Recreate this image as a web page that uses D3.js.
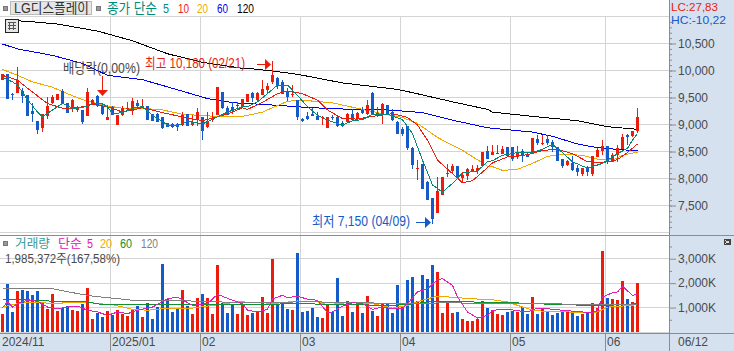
<!DOCTYPE html>
<html>
<head>
<meta charset="utf-8">
<script src="https://cdn.jsdelivr.net/npm/d3@7"></script>
<style>
html,body{margin:0;padding:0;background:#fff;overflow:hidden;}
svg{display:block;}
text{font-family:"Liberation Sans","Noto Sans CJK KR",sans-serif;}
</style>
</head>
<body>
<script>
// candle values, one per trading day
const opens = [9820,9930,9570,9590,9620,9540,9250,9060,8940,9160,9400,9450,9620,9400,9280,9270,9270,9160,9390,9530,
9350,9090,9330,9000,9170,9280,9250,9390,9340,9340,9190,9200,9130,9020,9010,9010,8990,9200,8990,9110,
9140,8960,9080,9170,9600,9310,9330,9340,9330,9420,9590,9450,9540,9640,9790,9870,9790,9600,9560,9450,
9110,9150,9190,9150,9120,8940,9140,9130,9020,9050,9200,9100,9270,9190,9590,9190,9190,9360,9230,9050,
8910,8970,8570,8190,8270,7940,7630,7360,7700,8080,8140,8230,8010,8040,8140,8140,8230,8510,8430,8470,
8460,8580,8580,8400,8510,8460,8460,8730,8650,8730,8670,8580,8360,8250,8280,8200,8090,8200,8080,8400,
8510,8610,8310,8430,8540,8800,8780,8880];
const closes = [9930,9470,9540,9820,9520,9160,9190,8900,9190,9350,9510,9560,9390,9220,9450,9310,9050,9600,9450,9350,
9190,9140,9170,9170,9310,9300,9430,9340,9350,9080,9070,9050,8930,8960,8950,8950,9170,8970,9050,9230,
8880,9070,9110,9690,9300,9170,9250,9370,9470,9560,9490,9590,9650,9710,9910,9730,9570,9510,9570,9130,
9060,9100,9160,9090,9140,9130,9120,8970,8980,9200,9090,9220,9220,9360,9200,9220,9380,9190,9090,8820,
8830,8570,8250,8200,7800,7610,7250,7770,8020,8100,8230,8030,8070,8170,8170,8200,8490,8370,8490,8480,
8540,8420,8370,8490,8410,8400,8750,8650,8660,8650,8590,8330,8230,8320,8150,8120,8190,8120,8420,8520,
8600,8310,8430,8560,8760,8770,8880,9140];
const highs = [9930,9930,9590,10070,9670,9550,9390,9060,9190,9510,9540,9560,9650,9400,9480,9340,9270,9670,9470,9550,
9360,9360,9350,9170,9340,9420,9500,9460,9480,9350,9200,9210,9130,9030,9020,9030,9230,9200,9170,9300,
9140,9230,9230,9690,9610,9340,9420,9420,9480,9570,9600,9600,9830,9760,10180,9880,9830,9670,9730,9460,
9120,9230,9300,9230,9150,9140,9170,9150,9060,9210,9280,9230,9330,9450,9600,9330,9390,9370,9280,9060,
8960,8970,8580,8340,8270,7950,7640,8030,8030,8260,8270,8240,8120,8200,8250,8250,8500,8600,8620,8620,
8600,8580,8580,8600,8540,8490,8750,8800,8810,8800,8710,8590,8360,8350,8410,8250,8190,8230,8420,8560,
8720,8610,8480,8620,8820,8830,8880,9300];
const lows = [9820,9470,9450,9590,9390,9160,9050,8830,8860,9110,9380,9450,9390,9210,9230,9230,9010,9160,9370,9330,
9180,9090,9170,9000,9160,9270,9170,9300,9340,9080,9060,9050,8920,8950,8940,8880,8970,8970,8970,8970,
8710,8930,9050,9170,9290,9170,9200,9270,9320,9410,9420,9440,9540,9590,9750,9650,9570,9440,9510,9090,
9050,9080,9150,9080,8990,8930,9090,8960,8960,9020,9080,9090,9200,9170,9200,9130,9010,9180,9060,8820,
8790,8520,8170,7970,7800,7610,7150,7360,7700,8030,8090,8020,7920,7980,8120,8080,8220,8360,8430,8450,
8450,8420,8330,8370,8310,8390,8450,8620,8620,8620,8490,8330,8200,8230,8140,8050,8050,8050,8050,8390,
8430,8270,8300,8310,8540,8620,8770,8850];
const volumes = [750,1980,820,1680,1730,1680,1500,1680,1230,950,1570,860,1000,1060,890,860,1160,1810,550,780,
610,860,680,890,720,650,950,1060,610,1190,550,1020,2780,1360,820,950,1730,1060,750,1400,
1570,1400,750,2760,1200,780,1130,750,1160,710,780,820,1430,780,2990,1120,1200,940,900,3230,
820,860,980,610,570,1090,820,2210,650,1270,820,1200,780,1470,860,650,1190,1130,780,1920,
1020,2130,2250,1260,2330,2170,2740,2460,780,1270,780,820,530,450,450,550,1270,980,900,740,
700,820,850,800,1020,740,1430,740,950,800,700,780,900,800,780,650,750,780,1190,980,
3320,1390,1350,1310,2090,1350,1230,1985];

// moving averages read at selected days: day index, then value
const ma5Days = [0,2,3,5,7,8,10,12,14,16,18,20,21,22,24,26,28,30,33,35,37,40,43,45,48,49,51,53,55,57,59,61,63,65,68,70,72,74,77,80,82,84,86,88,90,92,95,97,98,100,103,106,108,110,112,114,117,120,123,125,126,127];
const ma5 = [9870,9790,9730,9460,9230,9140,9270,9390,9300,9310,9390,9380,9330,9200,9220,9300,9330,9170,8990,8980,9060,9010,9140,9230,9330,9330,9420,9570,9730,9730,9540,9330,9170,9080,8990,9070,9090,9190,9190,9090,8830,8340,7880,7750,7910,8100,8140,8310,8330,8430,8480,8480,8540,8630,8480,8310,8190,8280,8460,8560,8710,8830];
const ma10Days = [0,3,6,9,12,15,18,21,24,28,32,36,40,43,46,48,49,52,55,57,60,63,65,68,71,74,78,81,83,85,87,90,92,94,97,98,101,105,108,111,114,117,120,123,125,127];
const ma10 = [9910,9820,9600,9390,9300,9310,9370,9330,9230,9310,9220,9140,9070,9140,9230,9310,9280,9410,9570,9620,9570,9450,9270,9110,9100,9150,9200,9130,8990,8710,8340,8090,7920,7960,8200,8290,8400,8440,8520,8540,8460,8310,8290,8350,8480,8640];
const ma20Days = [0,3,6,10,13,16,20,24,28,32,36,41,43,48,49,52,55,57,60,66,71,76,80,83,87,92,97,98,100,103,106,109,112,116,119,122,124,127];
const ma20 = [10020,9910,9790,9690,9570,9460,9360,9300,9300,9270,9190,9160,9150,9150,9170,9230,9350,9430,9450,9400,9300,9200,9130,9020,8760,8520,8230,8220,8150,8170,8280,8410,8450,8430,8360,8340,8430,8490];
const ma60Days = [0,3,10,16,21,28,34,41,45,48,49,54,62,70,77,84,90,97,98,106,110,115,119,123,127];
const ma60 = [10490,10400,10280,10130,9910,9830,9670,9480,9420,9390,9390,9360,9310,9280,9270,9220,9080,8940,8930,8860,8780,8640,8570,8540,8510];
const ma120Days = [1,5,11,19,26,33,40,48,49,54,59,68,79,82,90,97,98,106,115,121,127];
const ma120 = [10930,10910,10860,10730,10550,10310,10150,10040,10040,9990,9930,9770,9650,9590,9420,9280,9230,9150,9070,8960,8910];

const volMa5Days = [0,1,2,3,5,7,9,11,13,15,17,19,21,23,25,27,30,33,35,38,41,43,46,48,49,51,53,54,56,57,59,61,63,65,66,68,70,72,74,76,78,80,81,83,85,87,88,90,91,93,95,97,98,101,105,107,109,112,116,118,119,120,122,123,124,126,127];
const volMa5 = [1000,1230,1020,1160,1300,1260,1020,950,1020,1060,890,820,680,820,750,890,1020,1360,1430,1090,1160,1540,1300,1160,890,820,930,1360,1500,1400,1470,1340,1300,790,820,1060,1200,1160,930,1020,950,950,1160,1640,1770,2150,2180,1910,1430,820,570,680,890,930,820,980,950,890,820,780,890,1430,1610,1640,1870,1500,1540];
const volMa20Days = [0,3,5,8,10,13,17,19,22,26,29,32,37,41,46,48,49,52,54,59,63,65,69,74,78,81,84,87,92,97,98,101,103,106,110,113,117,119,121,124,127];
const volMa20 = [1020,1160,1200,1200,1160,1200,1230,1160,1120,930,890,950,950,1060,1200,1250,1200,1200,1160,1270,1230,1120,1200,1160,980,1090,1300,1470,1390,1320,1320,1230,1090,890,820,820,790,820,1020,1060,1120];
const volMa60Days = [0,4,7,12,17,20,26,33,48,49,59,69,77,81,86,92,97,98,103,106,117,121,127];
const volMa60 = [1320,1320,1300,1230,1230,1120,1120,1120,1120,1120,1160,1120,1090,1120,1250,1250,1200,1200,1190,1160,1090,1090,1160];
const volMa120Days = [0,10,14,18,26,33,48,49,59,63,73,77,82,89,97,98,127];
const volMa120 = [1770,1770,1610,1470,1300,1300,1200,1200,1230,1230,1200,1160,1160,1200,1160,1160,1130];

const priceTicks = [7500,8000,8500,9000,9500,10000,10500];
const volumeTicks = [1000,2000,3000];
const monthDays = [22,40,60,80,102,121];
const monthLabels = ["2025/01","02","03","04","05","06"];

const width = 734;
const height = 351;
const chartRight = 669;
const red = "#ec1c0c";
const blue = "#145ac8";
const teal = "#008a78";
const orange = "#f0a800";
const magenta = "#e020b0";
const green = "#109030";
const gridColor = "#d4d4d4";
const textColor = "#4a4a4a";
const panelColor = "#d6e1f0";

const svg = d3.select("body").append("svg")
  .attr("width", width)
  .attr("height", height)
  .attr("viewBox", "0 0 " + width + " " + height);

// 5px slot for each day
const xScale = d3.scaleLinear().domain([0,134]).range([0,670]);
const yPrice = d3.scaleLinear().domain([7000,11000]).range([232.5,16.5]);
const yVolume = d3.scaleLinear().domain([0,3000]).range([332,258.7]);

function label(x, y, str, color, size, len){
  const t = svg.append("text")
    .attr("x", x).attr("y", y)
    .attr("fill", color)
    .attr("font-size", size + "px")
    .text(str);
  if(len) t.attr("textLength", len).attr("lengthAdjust", "spacingAndGlyphs");
  return t;
}

// side panel and date strip
svg.append("rect").attr("x",chartRight).attr("y",0).attr("width",width-chartRight).attr("height",height).attr("fill",panelColor);
svg.append("rect").attr("x",0).attr("y",334).attr("width",width).attr("height",height-334).attr("fill",panelColor);

// gridlines
const grid = svg.append("g").attr("stroke",gridColor).attr("shape-rendering","crispEdges");
grid.selectAll("line.h")
  .data([7000].concat(priceTicks, [11000]))
  .enter().append("line")
  .attr("x1",0).attr("x2",chartRight)
  .attr("y1",function(d){ return Math.floor(yPrice(d))+0.5; })
  .attr("y2",function(d){ return Math.floor(yPrice(d))+0.5; });
grid.selectAll("line.v")
  .data(volumeTicks.concat([0]))
  .enter().append("line")
  .attr("x1",0).attr("x2",chartRight)
  .attr("y1",function(d){ return Math.floor(yVolume(d))+0.5; })
  .attr("y2",function(d){ return Math.floor(yVolume(d))+0.5; });
grid.selectAll("line.m")
  .data(monthDays)
  .enter().append("line")
  .attr("x1",function(d){ return xScale(d)+0.5; })
  .attr("x2",function(d){ return xScale(d)+0.5; })
  .attr("y1",16).attr("y2",334);

// line helper
function maLine(days, vals, y, color){
  const line = d3.line()
    .x(function(d){ return xScale(d[0])+2.5; })
    .y(function(d){ return y(d[1]); });
  svg.append("path")
    .attr("d", line(days.map(function(d,i){ return [d, vals[i]]; })))
    .attr("fill","none")
    .attr("stroke",color)
    .attr("stroke-width",1)
    .attr("shape-rendering","crispEdges");
}

// moving averages under the candles go first
maLine(ma120Days, ma120, yPrice, "#000000");
maLine(ma60Days, ma60, yPrice, "#0000f0");
maLine(ma20Days, ma20, yPrice, orange);

// candles
const days = d3.range(closes.length);
const isUp = function(i){ return closes[i] >= opens[i]; };
svg.append("g").attr("shape-rendering","crispEdges")
  .selectAll("rect.wick").data(days).enter().append("rect")
  .attr("x",function(i){ return xScale(i)+2; })
  .attr("width",1)
  .attr("y",function(i){ return yPrice(highs[i]); })
  .attr("height",function(i){ return yPrice(lows[i])-yPrice(highs[i]); })
  .attr("fill",function(i){ return isUp(i) ? red : blue; });
svg.append("g").attr("shape-rendering","crispEdges")
  .selectAll("rect.body").data(days).enter().append("rect")
  .attr("x",function(i){ return xScale(i)+1; })
  .attr("width",3)
  .attr("y",function(i){ return yPrice(Math.max(opens[i],closes[i])); })
  .attr("height",function(i){ return Math.max(1,Math.abs(yPrice(opens[i])-yPrice(closes[i]))); })
  .attr("fill",function(i){ return isUp(i) ? red : blue; });

maLine(ma10Days, ma10, yPrice, red);
maLine(ma5Days, ma5, yPrice, teal);

// volume bars
svg.append("g").attr("shape-rendering","crispEdges")
  .selectAll("rect").data(days).enter().append("rect")
  .attr("x",function(i){ return xScale(i)+1; })
  .attr("width",3)
  .attr("y",function(i){ return yVolume(volumes[i]); })
  .attr("height",function(i){ return yVolume(0)-yVolume(volumes[i]); })
  .attr("fill",function(i){ return isUp(i) ? red : blue; });

maLine(volMa20Days, volMa20, yVolume, orange);
maLine(volMa60Days, volMa60, yVolume, green);
maLine(volMa120Days, volMa120, yVolume, "#808080");
maLine(volMa5Days, volMa5, yVolume, magenta);

// pane frame
const frame = svg.append("g").attr("stroke","#8c8c8c").attr("shape-rendering","crispEdges");
frame.append("line").attr("x1",chartRight+0.5).attr("x2",chartRight+0.5).attr("y1",0).attr("y2",height);
frame.append("line").attr("x1",0).attr("x2",width).attr("y1",235.5).attr("y2",235.5);
frame.append("line").attr("x1",0).attr("x2",width).attr("y1",333.5).attr("y2",333.5);
frame.selectAll("line.mon").data(monthDays).enter().append("line")
  .attr("x1",function(d){ return xScale(d)+0.5; })
  .attr("x2",function(d){ return xScale(d)+0.5; })
  .attr("y1",334).attr("y2",height);

// right axes
function styleAxis(g){
  g.select(".domain").remove();
  g.selectAll("line").attr("stroke","#8c8c8c");
  g.selectAll("text").attr("fill",textColor).attr("font-size","12px").attr("font-family",null);
}
svg.append("g").attr("transform","translate("+chartRight+",0)")
  .call(d3.axisRight(yPrice).tickValues(d3.range(7100,11000,100)).tickSize(3).tickFormat(""))
  .call(styleAxis);
svg.append("g").attr("transform","translate("+chartRight+",0)")
  .call(d3.axisRight(yPrice).tickValues(priceTicks).tickSize(7).tickPadding(2).tickFormat(d3.format(",")))
  .call(styleAxis);
svg.append("g").attr("transform","translate("+chartRight+",0)")
  .call(d3.axisRight(yVolume).tickValues([500,1500,2500,3500]).tickSize(3).tickFormat(""))
  .call(styleAxis);
svg.append("g").attr("transform","translate("+chartRight+",0)")
  .call(d3.axisRight(yVolume).tickValues(volumeTicks).tickSize(7).tickPadding(2)
    .tickFormat(function(d){ return d3.format(",")(d)+"K"; }))
  .call(styleAxis);

// date labels
label(2,346,"2024/11",textColor,12);
monthDays.forEach(function(d,i){ label(xScale(d)+2,346,monthLabels[i],textColor,12); });
label(678,346,"06/12",textColor,12);

// header
svg.append("rect").attr("x",3.5).attr("y",6.5).attr("width",4).attr("height",4).attr("fill","#999").attr("stroke","#777");
svg.append("rect").attr("x",10.5).attr("y",1.5).attr("width",81).attr("height",13).attr("fill","#e6e6e6").attr("stroke","#bbb");
label(14,13,"LG디스플레이","#333",14,75);
svg.append("rect").attr("x",96.5).attr("y",6.5).attr("width",4).attr("height",4).attr("fill","#999").attr("stroke","#777");
label(107,13,"종가 단순",teal,14,50);
label(163,13,"5",teal,13,6);
label(178,13,"10",red,13,11);
label(197,13,"20",orange,13,11);
label(217,13,"60","#0000f0",13,11);
label(237,13,"120","#000",13,17);
label(671,11,"LC:27,83",red,11.3,47);
label(671,24,"HC:-10,22",blue,11.3,55);

// small grid icon on the left
const icon = svg.append("g").attr("shape-rendering","crispEdges");
icon.append("rect").attr("x",5.5).attr("y",19.5).attr("width",13).attr("height",13).attr("fill","#e6e6e6").attr("stroke","#222");
icon.selectAll("line.a").data([9.5,13.5]).enter().append("line")
  .attr("x1",function(d){ return d; }).attr("x2",function(d){ return d; }).attr("y1",22).attr("y2",30).attr("stroke","#555");
icon.selectAll("line.b").data([22.5,25.5,28.5]).enter().append("line")
  .attr("y1",function(d){ return d; }).attr("y2",function(d){ return d; }).attr("x1",8).attr("x2",16).attr("stroke","#555");

// annotations
label(63,73,"배당락(0,00%)",textColor,14,77);
svg.append("rect").attr("x",102).attr("y",76).attr("width",1).attr("height",15).attr("fill",red);
svg.append("path").attr("d","M97,90L108,90L102.5,96Z").attr("fill",red);
label(145,68,"최고 10,180 (02/21)",red,14,100);
svg.append("rect").attr("x",257).attr("y",64).attr("width",9).attr("height",1).attr("fill",red);
svg.append("path").attr("d","M265,59L265,70L271,64.5Z").attr("fill",red);
label(312,226,"최저 7,150 (04/09)",blue,14,98);
svg.append("rect").attr("x",416).attr("y",222).attr("width",10).attr("height",1).attr("fill",blue);
svg.append("path").attr("d","M425,217L425,228L431,222.5Z").attr("fill",blue);

// volume legend
svg.append("rect").attr("x",3.5).attr("y",241.5).attr("width",4).attr("height",4).attr("fill","#999").attr("stroke","#777");
label(15,248,"거래량","#3a9a9a",12.5,35);
label(58,248,"단순",magenta,12.5,24);
label(87,248,"5",magenta,12.5,6);
label(100,248,"20",orange,12.5,12);
label(120,248,"60",green,12.5,12);
label(141,248,"120","#808080",12.5,17);
label(5,262.5,"1,985,372주(167,58%)",textColor,12.5,115);

// collapse button
const collapse = svg.append("g").attr("shape-rendering","crispEdges");
collapse.append("rect").attr("x",724).attr("y",239).attr("width",7).attr("height",6).attr("fill","#444");
collapse.append("path").attr("d","M725.5,240.5L729.5,243.5M729.5,240.5L725.5,243.5").attr("stroke","#ddd").attr("fill","none");
</script>
</body>
</html>
